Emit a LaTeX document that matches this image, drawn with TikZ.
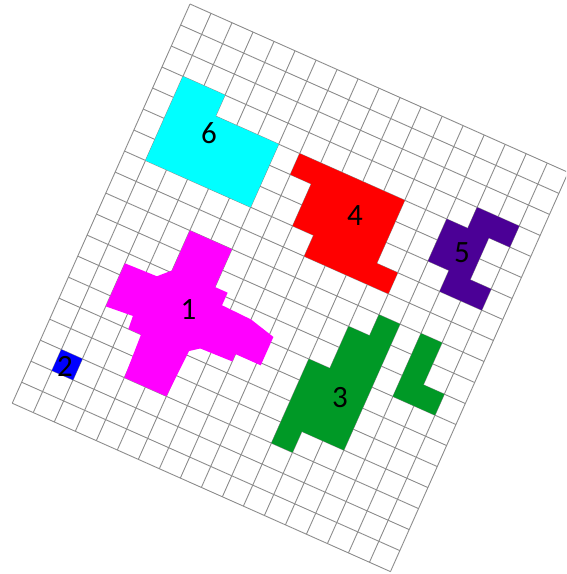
\documentclass[tikz,border=0pt]{standalone}
\usepackage{fontspec}
\setmainfont{Carlito}
\definecolor{gridgray}{RGB}{140,140,140}
\definecolor{shgreen}{RGB}{0,153,38}
\definecolor{shpurple}{RGB}{75,0,150}
\definecolor{shcyan}{RGB}{0,255,255}
\definecolor{shred}{RGB}{255,0,0}
\definecolor{shmagenta}{RGB}{255,0,255}
\definecolor{shblue}{RGB}{0,0,255}
\begin{document}
\begin{tikzpicture}[x=1pt,y=1pt,
  gridline/.style={draw=gridgray, line width=0.9pt},
  lab/.style={font=\fontsize{31}{31}\selectfont, inner sep=0pt, text=black}]
\useasboundingbox (0,0) rectangle (566,-574);
\begin{scope}
\clip (0,0) rectangle (566,-574);
\begin{scope}[shift={(190pt,-4pt)}, x={(21.012pt,-9.355pt)}, y={(-9.355pt,-21.012pt)}]
\foreach \i in {0,...,18} \draw[gridline] (\i,0) -- (\i,19);
\foreach \j in {0,...,19} \draw[gridline] (0,\j) -- (18,\j);
% 6 cyan
\fill[shcyan] (1,3) -- (3,3) -- (3,4) -- (6,4) -- (6,7) -- (1,7) -- cycle;
% 4 red
\fill[shred] (7,4) -- (12,4) -- (12,7) -- (13,7) -- (13,8) -- (9,8) -- (9,7) -- (8,7) -- (8,5) -- (7,5) -- cycle;
% 5 purple
\fill[shpurple] (15,3) -- (17,3) -- (17,4) -- (16,4) -- (16,6) -- (17,6) -- (17,7) -- (15,7) -- (15,6) -- (14,6) -- (14,4) -- (15,4) -- cycle;
% 1 magenta
\fill[shmagenta] (4,9) -- (6,9) -- (6,10.8) -- (6.6,10.8) -- (6.6,11.4) -- (8,11.45) -- (9.2,11.75) -- (9.2,13.1) -- (8,13.1) -- (8,13.45) -- (6.5,13.5) -- (6.1,13.8) -- (6,16) -- (4,16) -- (3.9,14) -- (3.3,14) -- (3.25,13.4) -- (2,13.5) -- (2,11.45) -- (3.5,11.4) -- (4,10.9) -- cycle;
% 2 blue
\fill[shblue] (1,16) -- (2,16) -- (2,17) -- (1,17) -- cycle;
% 3 green
\fill[shgreen] (13,9) -- (14,9) -- (14,15) -- (12,15) -- (12,16) -- (11,16) -- (11,12) -- (12,12) -- (12,10) -- (13,10) -- cycle;
\fill[shgreen] (15,9) -- (16,9) -- (16,11) -- (17,11) -- (17,12) -- (15,12) -- cycle;
\end{scope}
\end{scope}
\node[lab] (lab1) at (188.5,-310) {1};
\node[lab] (lab2) at (65,-366) {2};
\node[lab] (lab3) at (340,-398) {3};
\node[lab] (lab4) at (355,-216) {4};
\node[lab] (lab5) at (462,-253) {5};
\node[lab] (lab6) at (209,-133) {6};
\end{tikzpicture}
\end{document}
